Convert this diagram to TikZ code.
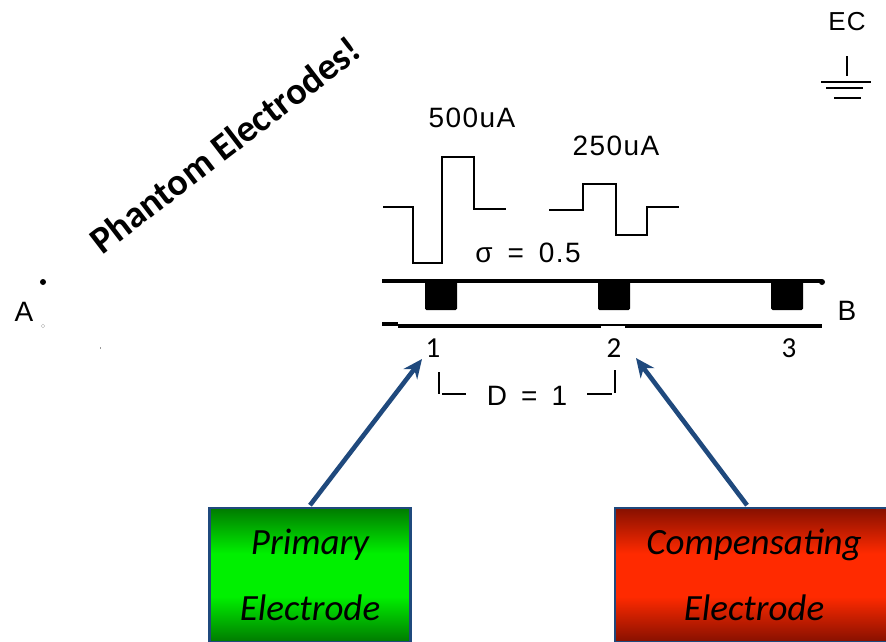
\documentclass[tikz,border=0pt]{standalone}
\usepackage{fontspec}
\setmainfont{Liberation Sans}[LetterSpace=5]
\newfontfamily\calibrifont{Carlito}
\usepackage[dvipsnames]{xcolor}
\usetikzlibrary{arrows.meta}
\definecolor{arrowblue}{HTML}{1F497D}
\definecolor{greendark}{HTML}{007A00}
\definecolor{greenlight}{HTML}{00F000}
\definecolor{reddark}{HTML}{861000}
\definecolor{redlight}{HTML}{FF2A00}
\pgfdeclareverticalshading{greenfade}{100bp}{color(0bp)=(greendark); color(25bp)=(greendark); color(42bp)=(greenlight); color(58bp)=(greenlight); color(75bp)=(greendark); color(100bp)=(greendark)}
\pgfdeclareverticalshading{redfade}{100bp}{color(0bp)=(reddark); color(25bp)=(reddark); color(42bp)=(redlight); color(58bp)=(redlight); color(75bp)=(reddark); color(100bp)=(reddark)}

\begin{document}
\begin{tikzpicture}[x=1pt,y=-1pt,
    label node/.style={font=\fontsize{28}{30}\selectfont,inner sep=0pt},
    number node/.style={font=\calibrifont\fontsize{29}{30}\selectfont,inner sep=0pt},
    trace/.style={line width=2.2pt,line join=miter},
    rail/.style={line width=4.4pt},
    electrode/.style={draw=arrowblue,line width=2.6pt,inner sep=0pt,align=center,
        font=\calibrifont\itshape\fontsize{37}{66}\selectfont},
    pointer/.style={-{Stealth[length=19pt,width=17pt]},draw=arrowblue,line width=4.6pt}]
    \useasboundingbox[clip] (0,0) rectangle (886,641);

    % electrode boxes
    \node[electrode,minimum width=201pt,minimum height=134pt,shading=greenfade] (primary) at (310,575) {Primary\\Electrode};
    \node[electrode,minimum width=278pt,minimum height=134pt,shading=redfade] (compensating) at (754,575) {Compensating\\Electrode};

    % labels
    \node[label node] (A) at (24,312) {A};
    \node[label node] (B) at (847,311) {B};
    \node[label node,font=\fontsize{26}{30}\selectfont] (EC) at (847,22) {EC};
    \node[label node] (big) at (472,118) {500uA};
    \node[label node] (small) at (616,146) {250uA};
    \node[label node] (sigma) at (528,253) {σ\hspace{15pt}=\hspace{15pt}0.5};
    \node[label node] (D) at (527,396) {D\hspace{14pt}=\hspace{14pt}1};
    \node[number node] (1) at (433,348) {1};
    \node[number node] (2) at (614,348) {2};
    \node[number node] (3) at (789,348) {3};
    \node[font=\calibrifont\bfseries\fontsize{38}{40}\selectfont,rotate=37.5,inner sep=0pt] (title) at (225,145) {Phantom Electrodes!};

    % waveforms
    \draw[trace] (383,207) -- (413,207) -- (413,263) -- (442,263) -- (442,157) -- (474,157) -- (474,209) -- (506,209);
    \draw[trace] (549,210) -- (583,210) -- (583,184) -- (616,184) -- (616,235) -- (647,235) -- (647,207) -- (679,207);

    % rails and contacts
    \draw[rail] (382,281) -- (822,281);
    \draw[rail] (382,324) -- (398,324);
    \draw[rail] (398,326) -- (822,326);
    \fill[white] (601,326) rectangle (625,329);
    \foreach \x in {425,598,771}
        \fill[rounded corners=1.5pt] (\x,280) rectangle (\x+32,310);
    \fill (822,282) circle (3pt);

    % scattered dots on the left
    \fill (43,282) circle (3pt);
    \draw[black!30,line width=0.4pt] (43,326) circle (1.8pt);
    \fill[black!40] (99.6,346.5) rectangle (100.4,348.5);

    % ground
    \draw[line width=2pt] (847,56) -- (847,76);
    \draw[line width=2pt] (821,82) -- (871,82);
    \draw[line width=2pt] (826,87.5) -- (863,87.5);
    \draw[line width=2pt] (834,98) -- (861,98);

    % distance bracket
    \draw[line width=1.8pt] (439,372) -- (439,394);
    \draw[line width=1.8pt] (442,394) -- (466,394);
    \draw[line width=1.8pt] (587,394) -- (612,394);
    \draw[line width=1.8pt] (615,370) -- (615,393);

    % arrows
    \coordinate (tip1) at (422,359);
    \coordinate (tip2) at (636,358);
    \draw[pointer] ([yshift=1.5pt]primary.north) -- (tip1);
    \draw[pointer] ([xshift=-7pt,yshift=1.5pt]compensating.north) -- (tip2);
\end{tikzpicture}
\end{document}
